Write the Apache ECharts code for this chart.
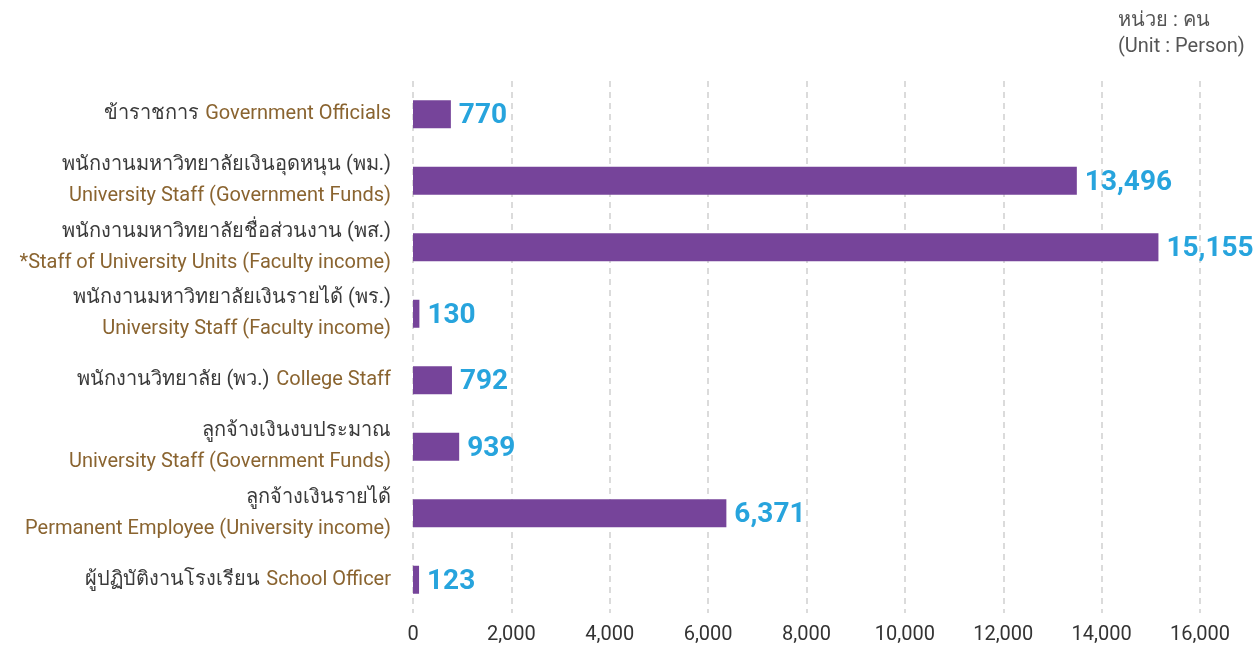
<!DOCTYPE html>
<html>
<head>
<meta charset="utf-8">
<script src="https://cdn.jsdelivr.net/npm/echarts@6/dist/echarts.min.js"></script>
<style>
  html, body { margin: 0; padding: 0; background: #fff; }
  #staff { width: 1260px; height: 645px; }
</style>
</head>
<body>
<div id="staff"></div>
<script>
// หมวดบุคลากร (Thai / English)
const thaiNames = [
  'ข้าราชการ',
  'พนักงานมหาวิทยาลัยเงินอุดหนุน (พม.)',
  'พนักงานมหาวิทยาลัยชื่อส่วนงาน (พส.)',
  'พนักงานมหาวิทยาลัยเงินรายได้ (พร.)',
  'พนักงานวิทยาลัย (พว.)',
  'ลูกจ้างเงินงบประมาณ',
  'ลูกจ้างเงินรายได้',
  'ผู้ปฏิบัติงานโรงเรียน'
];
const engNames = [
  'Government Officials',
  'University Staff (Government Funds)',
  '*Staff of University Units (Faculty income)',
  'University Staff (Faculty income)',
  'College Staff',
  'University Staff (Government Funds)',
  'Permanent Employee (University income)',
  'School Officer'
];
// true = English on the same line as Thai
const oneLine = [true, false, false, false, true, false, false, true];
const staffCount = [770, 13496, 15155, 130, 792, 939, 6371, 123];
const xTicks = [0, 2000, 4000, 6000, 8000, 10000, 12000, 14000, 16000];

const labelFont = 'Roboto, "Noto Sans", sans-serif';

const categories = thaiNames.map((t, i) =>
  oneLine[i] ? '{th|' + t + '}  {en|' + engNames[i] + '}'
             : '{th|' + t + '}\n{en|' + engNames[i] + '}'
);

const chart = echarts.init(document.getElementById('staff'));

const option = {
  animation: false,
  grid: { left: 413, right: 60, top: 81, bottom: 31 },
  graphic: [{
    type: 'text',
    left: 1118,
    top: 8,
    style: {
      text: 'หน่วย : คน\n(Unit : Person)',
      fill: '#555',
      font: '20px ' + labelFont,
      lineHeight: 26
    }
  }],
  xAxis: {
    type: 'value',
    min: xTicks[0],
    max: xTicks[xTicks.length - 1],
    interval: 2000,
    axisLine: { show: false },
    axisTick: { show: false },
    axisLabel: {
      color: '#333',
      fontSize: 20,
      fontFamily: labelFont,
      margin: 12,
      formatter: v => v.toLocaleString('en-US')
    },
    splitLine: {
      lineStyle: { color: '#d0d0d0', type: [6, 5], width: 1.5 }
    }
  },
  yAxis: {
    type: 'category',
    inverse: true,
    data: categories,
    axisLine: { show: false },
    axisTick: { show: false },
    axisLabel: {
      margin: 22,
      align: 'right',
      rich: {
        th: { color: '#3a3a3a', fontSize: 20, fontFamily: labelFont, lineHeight: 31 },
        en: { color: '#8a6430', fontSize: 20, fontFamily: labelFont, lineHeight: 31 }
      }
    }
  },
  series: [{
    type: 'bar',
    data: staffCount,
    barWidth: 28,
    itemStyle: { color: '#76449a' },
    label: {
      show: true,
      position: 'right',
      distance: 8,
      offset: [0, 2],
      color: '#27a4dd',
      fontSize: 28,
      fontWeight: 'bold',
      fontFamily: labelFont,
      formatter: p => p.value.toLocaleString('en-US')
    }
  }]
};

chart.setOption(option);
</script>
</body>
</html>
